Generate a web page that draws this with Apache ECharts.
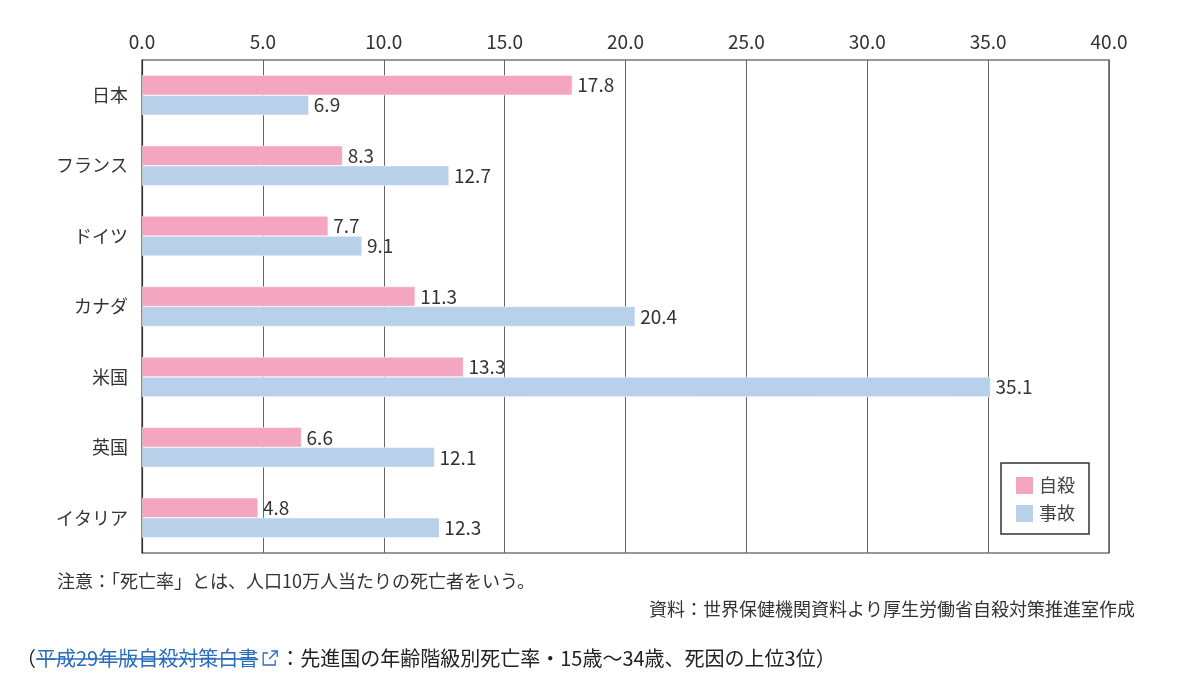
<!DOCTYPE html>
<html style="height: 100%">
<head>
    <meta charset="utf-8">
    <script src="https://cdn.jsdelivr.net/npm/echarts@6/dist/echarts.min.js"></script>
    <title>自殺・事故 死亡率</title>
</head>
<body style="height: 100%; margin: 0; background: #fff">
<div id="container" style="width: 1200px; height: 675px"></div>
<script type="text/javascript">

    let countries = ['日本', 'フランス', 'ドイツ', 'カナダ', '米国', '英国', 'イタリア']
    let suicide = [17.8, 8.3, 7.7, 11.3, 13.3, 6.6, 4.8]
    let accident = [6.9, 12.7, 9.1, 20.4, 35.1, 12.1, 12.3]
    let seriesNames = ['自殺', '事故']

    let font = '"Noto Sans CJK JP", "Noto Sans", sans-serif'
    let note = '注意：「死亡率」とは、人口10万人当たりの死亡者をいう。'
    let source = '資料：世界保健機関資料より厚生労働省自殺対策推進室作成'
    let linkText = '平成29年版自殺対策白書'
    let captionTail = '：先進国の年齢階級別死亡率・15歳～34歳、死因の上位3位）'

    // measure caption pieces so the strike line and icon line up
    let ctx = document.createElement('canvas').getContext('2d')
    ctx.font = '20px ' + font
    let x0 = 16
    let wOpen = ctx.measureText('（').width
    let wLink = ctx.measureText(linkText).width
    let linkX = x0 + wOpen
    let iconX = linkX + wLink + 5
    let tailX = iconX + 17

    let dom = document.getElementById('container')
    let chart = echarts.init(dom)

    let labelStyle = {
        show: true,
        position: 'right',
        distance: 5,
        fontSize: 19,
        color: '#333',
        fontFamily: font,
        formatter: p => p.value.toFixed(1)
    }

    chart.setOption({
        animation: false,
        textStyle: {fontFamily: font},
        grid: {
            left: 142, right: 91, top: 60, bottom: 122,
            show: true, borderColor: '#333', borderWidth: 1.2
        },
        legend: {
            data: seriesNames,
            orient: 'vertical',
            left: 1001, top: 463,
            padding: [12, 14, 10, 13],
            itemWidth: 19, itemHeight: 19, itemGap: 7,
            borderColor: '#333', borderWidth: 1.5,
            icon: 'rect',
            textStyle: {fontSize: 18, color: '#444', fontFamily: font}
        },
        xAxis: {
            type: 'value',
            position: 'top',
            min: 0, max: 40, interval: 5,
            axisLine: {show: false},
            axisTick: {show: false},
            axisLabel: {
                fontSize: 19, color: '#333', margin: 9,
                formatter: v => v.toFixed(1)
            },
            splitLine: {lineStyle: {color: '#666', width: 1}}
        },
        yAxis: {
            type: 'category',
            data: countries,
            inverse: true,
            axisLine: {lineStyle: {color: '#333', width: 1.2}},
            axisTick: {inside: true, length: 5, lineStyle: {color: '#333'}},
            axisLabel: {fontSize: 18, color: '#333', margin: 14}
        },
        series: [
            {
                name: seriesNames[0], type: 'bar', data: suicide,
                barWidth: 20, barGap: '0%',
                itemStyle: {color: '#F4A6C0', borderColor: '#fff', borderWidth: 0.5},
                label: labelStyle
            },
            {
                name: seriesNames[1], type: 'bar', data: accident,
                barWidth: 20,
                itemStyle: {color: '#B9D0EB', borderColor: '#fff', borderWidth: 0.5},
                label: labelStyle
            }
        ],
        graphic: [
            {type: 'text', left: 57, top: 572,
                style: {text: note, font: '18px ' + font, fill: '#333'}},
            {type: 'text', right: 65, top: 600,
                style: {text: source, font: '18px ' + font, fill: '#333'}},
            {type: 'text', x: x0, y: 658,
                style: {text: '（', font: '20px ' + font, fill: '#222', textVerticalAlign: 'middle'}},
            {type: 'text', x: linkX, y: 658,
                style: {text: linkText, font: '20px ' + font, fill: '#2a6ebb', textVerticalAlign: 'middle'}},
            {type: 'line', shape: {x1: linkX, y1: 659, x2: linkX + wLink, y2: 659},
                style: {stroke: '#2a6ebb', lineWidth: 1.5}},
            {type: 'polyline', shape: {points: [[iconX + 5, 653], [iconX, 653], [iconX, 665], [iconX + 12, 665], [iconX + 12, 660]]},
                style: {stroke: '#2a6ebb', lineWidth: 1.3, fill: null}},
            {type: 'polyline', shape: {points: [[iconX + 8, 651], [iconX + 14, 651], [iconX + 14, 657]]},
                style: {stroke: '#2a6ebb', lineWidth: 1.3, fill: null}},
            {type: 'line', shape: {x1: iconX + 14, y1: 651, x2: iconX + 6, y2: 659},
                style: {stroke: '#2a6ebb', lineWidth: 1.3}},
            {type: 'text', x: tailX, y: 658,
                style: {text: captionTail, font: '20px ' + font, fill: '#222', textVerticalAlign: 'middle'}}
        ]
    }, true)

</script>
</body>
</html>
